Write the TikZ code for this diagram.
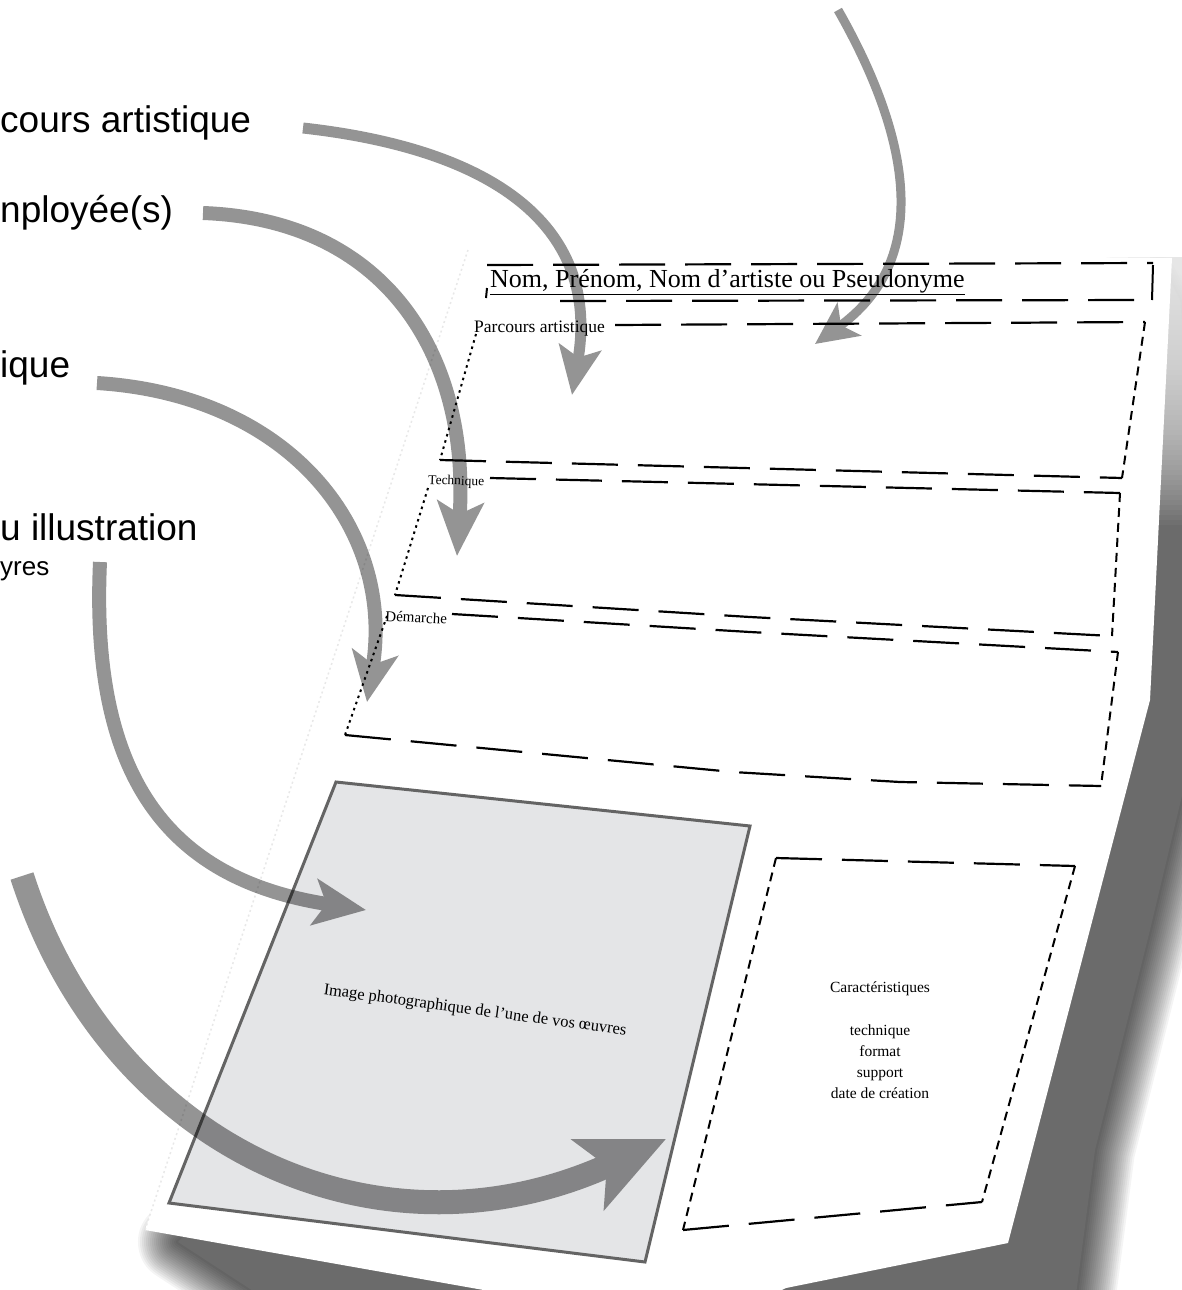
\documentclass[tikz,border=0pt]{standalone}
\usepackage{fontspec}
\setmainfont{Liberation Serif}
\newfontfamily\labelfont{Liberation Sans}
\usetikzlibrary{arrows.meta}
\definecolor{boxgray}{RGB}{228,229,231}
\definecolor{boxedge}{RGB}{100,100,100}
\definecolor{pageedge}{RGB}{232,232,232}
\begin{document}
\begin{tikzpicture}[x=1pt,y=-1pt,
  arrowline/.style={draw=black, line cap=butt},
  lbl/.style={font=\labelfont\fontsize{37}{42}\selectfont, anchor=base west, inner sep=0pt},
  hline/.style={line width=2.2pt, dash pattern=on 46pt off 20pt},
  vdash/.style={line width=2pt, dash pattern=on 9pt off 6pt},
  vdot/.style={line width=2pt, dash pattern=on 2.5pt off 4pt},
  boxlbl/.style={inner sep=0pt, anchor=base west}
]
\useasboundingbox (0,0) rectangle (1182,1290);
\fill[white] (0,0) rectangle (1182,1290);

% ---------- shadow ----------
\def\shadowpath{(1160,262) -- (1180,300) -- (1200,520) -- (1200,720) -- (1150,930) -- (1095,1150) -- (1070,1340) -- (600,1340) -- (270,1302) -- (178,1242) -- (600,800) -- cycle}
\foreach \w in {4,8,...,80}
  \draw[line width=\w pt, black, opacity=0.045, line join=round] \shadowpath;
\fill[black!58] \shadowpath;
% lighter shadow toward the top of the page (nested veils, no seams)
\foreach \i in {1,...,60}
  \fill[white, opacity=0.041] (1090,220) rectangle (1182,{225+\i*5});
\fill[white] (1000,150) rectangle (1182,257);

% ---------- page ----------
\coordinate (p1) at (468,250);
\coordinate (p2) at (1172,258);
\coordinate (p3) at (1158,540);
\coordinate (p4) at (1150,700);
\coordinate (p5) at (1008,1243);
\coordinate (p6) at (786,1288);
\coordinate (p7) at (760,1300);
\coordinate (p8) at (540,1300);
\coordinate (p9) at (145,1230);
\fill[white] (p1) -- (p2) -- (p3) -- (p4) -- (p5) -- (p6) -- (p7) -- (p8) -- (p9) -- cycle;
\draw[pageedge, line width=1.5pt, dash pattern=on 2pt off 3pt] (p9) -- (p1);

% ---------- header ----------
\draw[hline] (487,265) -- (1153,263);
\draw[line width=2pt] (1153,265) -- (1152,300);
\draw[hline] (560,301) -- (1152,300);
\draw[line width=2pt] (487,288) -- (486,298);
\node[boxlbl, font=\fontsize{26}{28}\selectfont] (nom) at (490,287) {\underline{Nom, Prénom, Nom d'artiste ou Pseudonyme}};

% ---------- box 1 ----------
\draw[hline] (615,325) -- (1145,322);
\draw[vdash] (1145,322) -- (1122,478);
\draw[hline] (440,460) -- (1122,478);
\draw[vdot] (476,334) -- (440,460);
\node[boxlbl, font=\fontsize{17.5}{19}\selectfont] (lb1) at (474,332) {Parcours artistique};

% ---------- box 2 ----------
\draw[hline] (490,478) -- (1120,493);
\draw[vdash] (1120,493) -- (1112,636);
\draw[hline] (395,595) -- (750,617) -- (1112,636);
\draw[vdot] (428,488) -- (395,595);
\node[boxlbl, font=\fontsize{13.5}{16}\selectfont, rotate=-2] (lb2) at (428,484) {Technique};

% ---------- box 3 ----------
\draw[hline] (452,614) -- (750,632) -- (1118,652);
\draw[vdash] (1118,652) -- (1101,786);
\draw[hline] (345,735) -- (733,772) -- (900,782) -- (1101,786);
\draw[vdot] (387,616) -- (345,735);
\node[boxlbl, font=\fontsize{15}{17}\selectfont, rotate=-3] (lb3) at (385,621) {Démarche};

% ---------- image box ----------
\coordinate (g1) at (336,782);
\coordinate (g2) at (750,826);
\coordinate (g3) at (645,1262);
\coordinate (g4) at (169,1203);
\draw[boxedge, line width=3pt, fill=boxgray] (g1) -- (g2) -- (g3) -- (g4) -- cycle;
\node[font=\fontsize{16.5}{19}\selectfont, rotate=-7.7, inner sep=0pt] (imgtxt) at (475,1011) {Image photographique de l'une de vos œuvres};

% ---------- right box ----------
\coordinate (r1) at (776,858);
\coordinate (r2) at (1075,866);
\coordinate (r3) at (982,1202);
\coordinate (r4) at (683,1230);
\draw[hline] (r1) -- (r2);
\draw[vdash] (r2) -- (r3);
\draw[hline] (r4) -- (r3);
\draw[vdash] (r1) -- (r4);
\node[align=center, font=\fontsize{15.5}{21}\selectfont, inner sep=0pt, anchor=north] (cartxt) at (880,982) {Caractéristiques\\[22pt] technique\\ format\\ support\\ date de création};

% ---------- left labels ----------
\node[lbl] (la) at (0,132) {cours artistique};
\node[lbl] (lbb) at (0,222) {nployée(s)};
\node[lbl] (lc) at (0,377) {ique};
\node[lbl] (ld) at (0,540) {u illustration};
\node[lbl, font=\labelfont\fontsize{26}{30}\selectfont] (ld2) at (0,575) {yres};

% ---------- arrows ----------
\coordinate (a0) at (303,128);   \coordinate (a1) at (572,395);
\coordinate (b0) at (203,213);   \coordinate (b1) at (457,556);
\coordinate (c0) at (97,383);    \coordinate (c1) at (367,702);
\coordinate (d0) at (100,562);   \coordinate (d1) at (366,910);
\coordinate (e0) at (838,10);    \coordinate (e1) at (815,344);
\coordinate (f0) at (22,876);    \coordinate (f1) at (666,1139);
\begin{scope}[transparency group, opacity=0.42]
\draw[arrowline, line width=11pt, -{Stealth[length=48pt,width=42pt,inset=10pt]}]
  (a0) .. controls (500,150) and (600,230) .. (a1);
\draw[arrowline, line width=14pt, -{Stealth[length=54pt,width=46pt,inset=12pt]}]
  (b0) .. controls (390,220) and (470,360) .. (b1);
\draw[arrowline, line width=14pt, -{Stealth[length=50pt,width=46pt,inset=12pt]}]
  (c0) .. controls (290,395) and (395,530) .. (c1);
\draw[arrowline, line width=14pt, -{Stealth[length=52pt,width=46pt,inset=12pt]}]
  (d0) .. controls (90,780) and (170,880) .. (d1);
\draw[arrowline, line width=9pt, -{Stealth[length=42pt,width=40pt,inset=10pt]}]
  (e0) .. controls (895,110) and (945,250) .. (e1);
\draw[arrowline, line width=24pt, -{Stealth[length=85pt,width=76pt,inset=20pt]}]
  (f0) .. controls (110,1150) and (380,1270) .. (f1);
\end{scope}
\end{tikzpicture}
\end{document}
